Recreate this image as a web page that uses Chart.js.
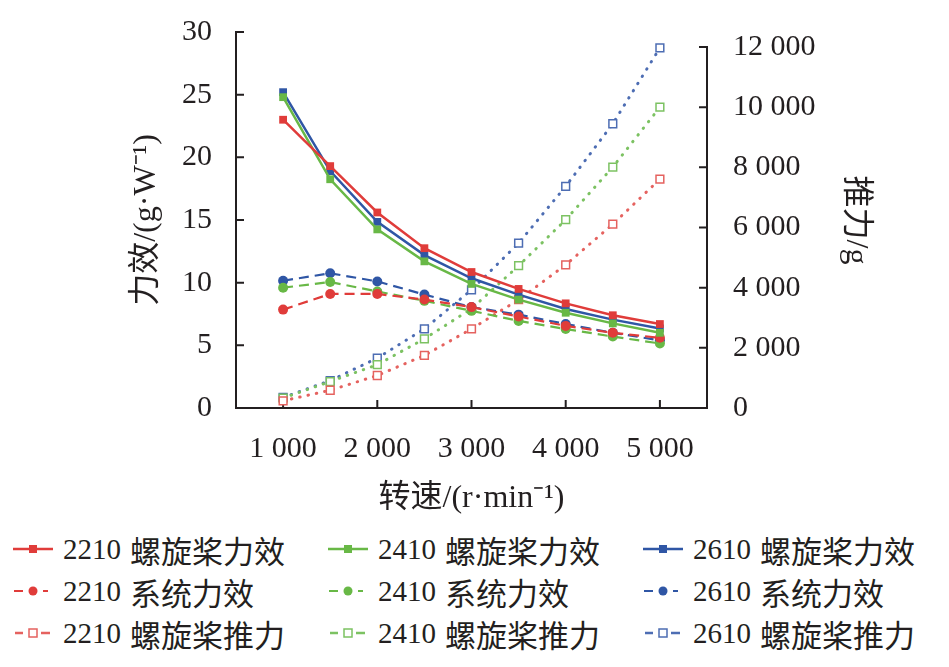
<!DOCTYPE html>
<html>
<head>
<meta charset="utf-8">
<script src="https://cdn.jsdelivr.net/npm/chart.js@4/dist/chart.umd.min.js"></script>
<style>
  html, body { margin: 0; padding: 0; background: #fff; }
  #wrap { position: relative; width: 949px; height: 667px; overflow: hidden; }
  #chart { position: absolute; left: 0; top: 0; }
  .leg { position: absolute; height: 42px; display: flex; align-items: center; white-space: nowrap;
         font-family: "Liberation Serif", "Noto Sans CJK SC", serif; color: #231f20; }
  .leg canvas { display: block; }
  .leg .n { font-size: 29px; margin-left: 10px; }
  .leg .c { font-family: "Noto Sans CJK SC", sans-serif; font-size: 31px; margin-left: 9px; }
</style>
</head>
<body>
<div id="wrap">
  <canvas id="chart" width="949" height="525"></canvas>
  <div id="legend"></div>
</div>
<script>
// 转速 (r/min)
const speeds = [1000, 1500, 2000, 2500, 3000, 3500, 4000, 4500, 5000];

// 螺旋桨力效 g/W
const prop2210 = [23.0, 19.3, 15.6, 12.75, 10.85, 9.5, 8.35, 7.4, 6.7];
const prop2410 = [24.8, 18.25, 14.25, 11.7, 9.9, 8.65, 7.6, 6.75, 6.0];
const prop2610 = [25.2, 18.9, 14.85, 12.2, 10.35, 9.05, 7.9, 7.05, 6.35];

// 系统力效 g/W
const sys2210 = [7.85, 9.1, 9.1, 8.65, 8.05, 7.3, 6.55, 6.0, 5.6];
const sys2410 = [9.6, 10.05, 9.3, 8.55, 7.75, 6.95, 6.3, 5.7, 5.15];
const sys2610 = [10.15, 10.75, 10.1, 9.05, 8.05, 7.45, 6.7, 6.0, 5.4];

// 螺旋桨推力 g
const thrust2210 = [240, 590, 1080, 1750, 2630, 3600, 4760, 6110, 7610];
const thrust2410 = [330, 880, 1440, 2300, 3300, 4730, 6260, 8010, 10000];
const thrust2610 = [350, 910, 1660, 2630, 3930, 5480, 7370, 9450, 11970];

const xTicks = [1000, 2000, 3000, 4000, 5000];
const yTicks = [0, 5, 10, 15, 20, 25, 30];
const y1Ticks = [0, 2000, 4000, 6000, 8000, 10000, 12000];

const rojo = '#e03c3a', verde = '#68b846', azul = '#2f56a5';
const rojoT = '#e5625f', verdeT = '#7cc262', azulT = '#4d6db3';

const fontNum = '"Liberation Serif", "Noto Sans CJK SC", serif';
const miles = v => String(v).replace(/\B(?=(\d{3})+(?!\d))/g, ' ');
const pts = arr => arr.map((v, i) => ({ x: speeds[i], y: v }));

function serieProp(label, data, color) {
  return { label, data: pts(data), yAxisID: 'y', borderColor: color, backgroundColor: color,
    borderWidth: 2.5, pointStyle: 'rect', pointRadius: 5.5, pointBorderWidth: 0, tension: 0, tipo: 'prop' };
}
function serieSys(label, data, color) {
  return { label, data: pts(data), yAxisID: 'y', borderColor: color, backgroundColor: color,
    borderWidth: 2.2, borderDash: [10, 6], pointStyle: 'circle', pointRadius: 5, pointBorderWidth: 0, tension: 0, tipo: 'sys' };
}
function serieThrust(label, data, color) {
  return { label, data: pts(data), yAxisID: 'y1', borderColor: color, backgroundColor: '#fff',
    pointBorderColor: color, borderWidth: 3, borderDash: [0.5, 8], borderCapStyle: 'round',
    pointStyle: 'rect', pointRadius: 5.5, pointBorderWidth: 1.5, tension: 0, tipo: 'thrust' };
}

const datasets = [
  serieProp('2210 螺旋桨力效', prop2210, rojo),
  serieProp('2410 螺旋桨力效', prop2410, verde),
  serieProp('2610 螺旋桨力效', prop2610, azul),
  serieSys('2210 系统力效', sys2210, rojo),
  serieSys('2410 系统力效', sys2410, verde),
  serieSys('2610 系统力效', sys2610, azul),
  serieThrust('2210 螺旋桨推力', thrust2210, rojoT),
  serieThrust('2410 螺旋桨推力', thrust2410, verdeT),
  serieThrust('2610 螺旋桨推力', thrust2610, azulT)
];

// ejes con marcas hacia dentro
const ejes = {
  id: 'ejes',
  beforeDatasetsDraw(chart) {
    const { ctx, chartArea: a, scales: { x, y, y1 } } = chart;
    ctx.save();
    ctx.strokeStyle = '#231f20';
    ctx.lineWidth = 2;
    ctx.lineCap = 'square';
    ctx.beginPath();
    ctx.moveTo(a.left, y.getPixelForValue(30));
    ctx.lineTo(a.left, a.bottom);
    ctx.lineTo(a.right, a.bottom);
    ctx.moveTo(a.right, y1.getPixelForValue(12000));
    ctx.lineTo(a.right, a.bottom);
    y.ticks.forEach(t => { const p = y.getPixelForValue(t.value); ctx.moveTo(a.left, p); ctx.lineTo(a.left + 7, p); });
    y1.ticks.forEach(t => { const p = y1.getPixelForValue(t.value); ctx.moveTo(a.right, p); ctx.lineTo(a.right - 7, p); });
    x.ticks.forEach(t => { const p = x.getPixelForValue(t.value); ctx.moveTo(p, a.bottom); ctx.lineTo(p, a.bottom - 7); });
    ctx.stroke();
    ctx.restore();
  }
};

const soloTicks = lista => axis => { axis.ticks = lista.map(v => ({ value: v })); };
const sinPadding = ancho => s => { s.width = ancho; s.paddingTop = 0; s.paddingBottom = 0; };

new Chart(document.getElementById('chart').getContext('2d'), {
  type: 'line',
  data: { datasets },
  plugins: [ejes],
  options: {
    responsive: false,
    animation: false,
    events: [],
    layout: { padding: { top: 32, left: 0, right: 0, bottom: 0 } },
    plugins: { legend: { display: false }, tooltip: { enabled: false } },
    scales: {
      x: {
        type: 'linear', min: 500, max: 5500,
        afterBuildTicks: soloTicks(xTicks),
        afterFit: s => { s.height = 117; s.paddingLeft = 0; s.paddingRight = 0; },
        grid: { display: false, drawTicks: false }, border: { display: false },
        ticks: { padding: 23, color: '#231f20', font: { family: fontNum, size: 30 }, callback: v => miles(v) },
        title: { display: true, text: '转速/(r·min⁻¹)', color: '#231f20', padding: { top: 0, bottom: 7 },
          font: { family: fontNum, size: 32 } }
      },
      y: {
        position: 'left', min: 0, max: 30,
        afterBuildTicks: soloTicks(yTicks),
        afterFit: sinPadding(236),
        grid: { display: false, drawTicks: false }, border: { display: false },
        ticks: { padding: 24, color: '#231f20', font: { family: fontNum, size: 30 } },
        title: { display: true, text: '力效/(g·W⁻¹)', color: '#231f20', padding: { top: 127, bottom: 0 },
          font: { family: fontNum, size: 32 } }
      },
      y1: {
        position: 'right', min: 0, max: 12500,
        afterBuildTicks: soloTicks(y1Ticks),
        afterFit: sinPadding(242),
        grid: { display: false, drawTicks: false }, border: { display: false },
        ticks: { padding: 26, color: '#231f20', font: { family: fontNum, size: 30 }, callback: v => miles(v) },
        title: { display: true, text: '推力/g', color: '#231f20', padding: { top: 74, bottom: 0 },
          font: { family: fontNum, size: 32 } }
      }
    }
  }
});

// leyenda en tres columnas
const colX = [13, 328, 643];
const legendDiv = document.getElementById('legend');
datasets.forEach((d, i) => {
  const col = i % 3, fila = Math.floor(i / 3);
  const item = document.createElement('div');
  item.className = 'leg';
  item.style.left = colX[col] + 'px';
  item.style.top = (528 + fila * 42) + 'px';
  const cv = document.createElement('canvas');
  cv.width = 40; cv.height = 16;
  const c = cv.getContext('2d');
  const color = d.borderColor;
  c.strokeStyle = color; c.fillStyle = color;
  if (d.tipo === 'prop') {
    c.lineWidth = 2.5;
    c.beginPath(); c.moveTo(0, 8); c.lineTo(40, 8); c.stroke();
    c.fillRect(16, 4, 8, 8);
  } else if (d.tipo === 'sys') {
    c.lineWidth = 2.2;
    c.beginPath(); c.moveTo(1, 8); c.lineTo(10, 8); c.moveTo(30, 8); c.lineTo(35, 8); c.stroke();
    c.beginPath(); c.arc(20, 8, 4.5, 0, Math.PI * 2); c.fill();
  } else {
    c.lineWidth = 2.5;
    c.beginPath(); c.moveTo(2, 8); c.lineTo(10, 8); c.moveTo(28, 8); c.lineTo(37, 8); c.stroke();
    c.fillStyle = '#fff'; c.lineWidth = 1.5;
    c.fillRect(16, 4, 8, 8); c.strokeRect(16, 4, 8, 8);
  }
  item.appendChild(cv);
  const partes = d.label.split(' ');
  const n = document.createElement('span'); n.className = 'n'; n.textContent = partes[0];
  const t = document.createElement('span'); t.className = 'c'; t.textContent = partes[1];
  item.appendChild(n); item.appendChild(t);
  legendDiv.appendChild(item);
});
</script>
</body>
</html>
